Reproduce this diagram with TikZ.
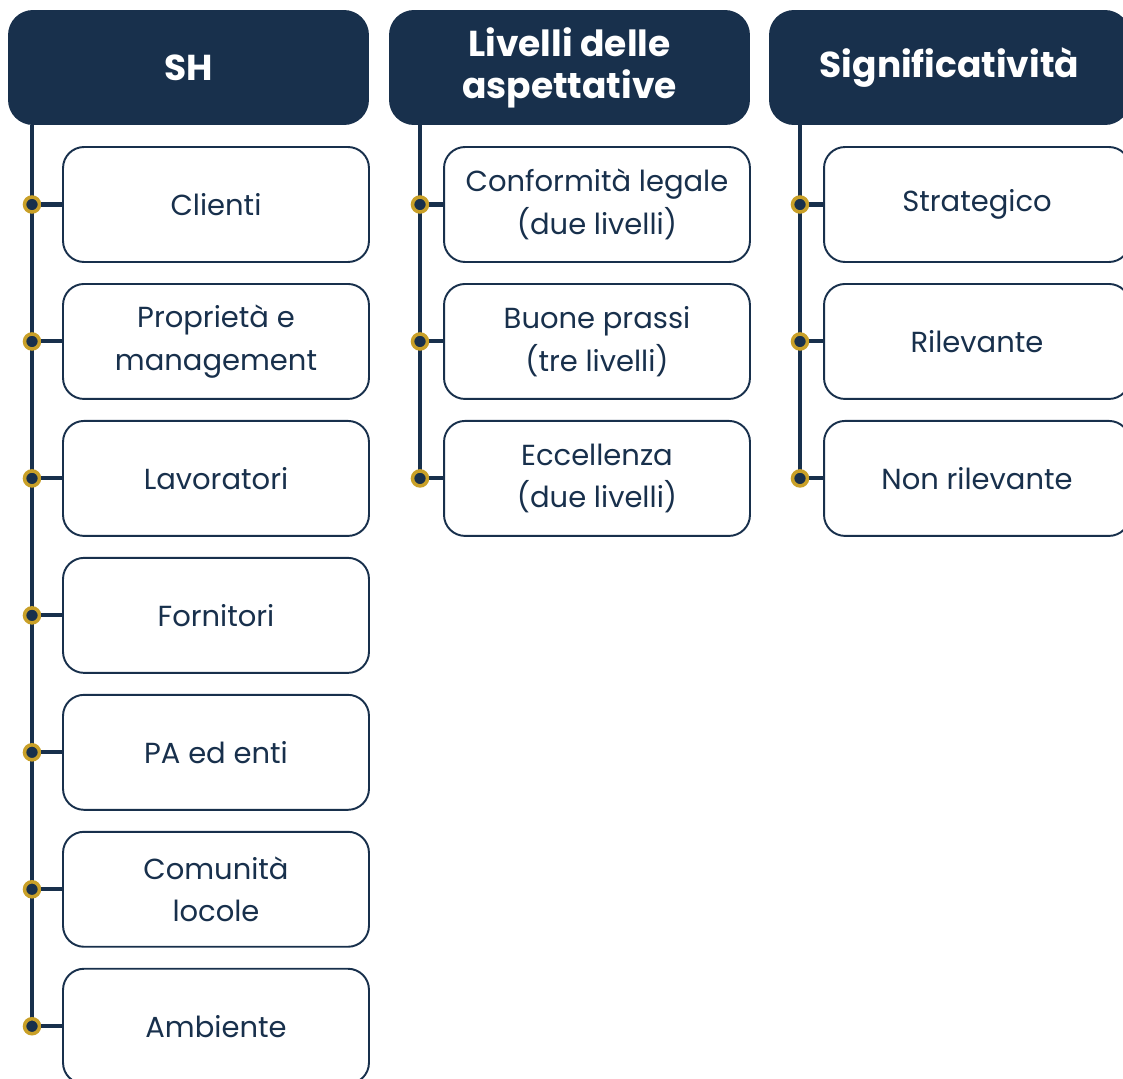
\documentclass[tikz,border=0pt]{standalone}
\usepackage{fontspec}
\setmainfont{Poppins}
\usepackage{tikz}
\usetikzlibrary{positioning}
\definecolor{navy}{RGB}{24,48,76}
\definecolor{gold}{RGB}{201,160,40}

\begin{document}
\begin{tikzpicture}[x=0.02cm, y=-0.02cm, node distance=0.401cm,
    head/.style={rectangle, rounded corners=0.5cm, minimum width=7.22cm, minimum height=2.3cm, fill=navy, text=white, align=center, font=\fontsize{20.5}{24}\selectfont\bfseries},
    item/.style={rectangle, rounded corners=0.42cm, minimum width=6.12cm, minimum height=2.3cm, draw=navy, line width=1.1pt, fill=white, text=navy, align=center, font=\fontsize{16.5}{24.4}\selectfont},
    spine/.style={draw=navy, line width=2.3pt},
    knob/.style={circle, draw=gold, fill=navy, line width=2pt, minimum size=0.3cm, inner sep=0pt}]
    \useasboundingbox (0,0) rectangle (1123,1079);

    % Headers
    \node [head] (sh) at (188.5,67.5) {SH};
    \node [head] (asp) at (569.5,67.5) {Livelli delle\\aspettative};
    \node [head] (sig) at (949.5,67.5) {Significatività};

    % SH column
    \node [item] (clienti) at (216,204.5) {Clienti};
    \node [item, below=of clienti] (proprieta) {Proprietà e\\management};
    \node [item, below=of proprieta] (lavoratori) {Lavoratori};
    \node [item, below=of lavoratori] (fornitori) {Fornitori};
    \node [item, below=of fornitori] (pa) {PA ed enti};
    \node [item, below=of pa] (comunita) {Comunità\\locole};
    \node [item, below=of comunita] (ambiente) {Ambiente};

    % Aspettative column
    \node [item] (legale) at (597,204.5) {Conformità legale\\(due livelli)};
    \node [item, below=of legale] (prassi) {Buone prassi\\(tre livelli)};
    \node [item, below=of prassi] (eccellenza) {Eccellenza\\(due livelli)};

    % Significativita column
    \node [item] (strategico) at (977,204.5) {Strategico};
    \node [item, below=of strategico] (rilevante) {Rilevante};
    \node [item, below=of rilevante] (nonril) {Non rilevante};

    % Spines
    \coordinate (shx) at (32,125);
    \coordinate (aspx) at (420,125);
    \coordinate (sigx) at (800,125);
    \draw[spine] (shx) -- (shx |- ambiente.west);
    \draw[spine] (aspx) -- (aspx |- eccellenza.west);
    \draw[spine] (sigx) -- (sigx |- nonril.west);

    % Knobs and links
    \node [knob] (k-clienti) at (shx |- clienti.west) {};
    \node [knob] (k-proprieta) at (shx |- proprieta.west) {};
    \node [knob] (k-lavoratori) at (shx |- lavoratori.west) {};
    \node [knob] (k-fornitori) at (shx |- fornitori.west) {};
    \node [knob] (k-pa) at (shx |- pa.west) {};
    \node [knob] (k-comunita) at (shx |- comunita.west) {};
    \node [knob] (k-ambiente) at (shx |- ambiente.west) {};
    \node [knob] (k-legale) at (aspx |- legale.west) {};
    \node [knob] (k-prassi) at (aspx |- prassi.west) {};
    \node [knob] (k-eccellenza) at (aspx |- eccellenza.west) {};
    \node [knob] (k-strategico) at (sigx |- strategico.west) {};
    \node [knob] (k-rilevante) at (sigx |- rilevante.west) {};
    \node [knob] (k-nonril) at (sigx |- nonril.west) {};

    \draw[spine] (k-clienti) -- (clienti.west);
    \draw[spine] (k-proprieta) -- (proprieta.west);
    \draw[spine] (k-lavoratori) -- (lavoratori.west);
    \draw[spine] (k-fornitori) -- (fornitori.west);
    \draw[spine] (k-pa) -- (pa.west);
    \draw[spine] (k-comunita) -- (comunita.west);
    \draw[spine] (k-ambiente) -- (ambiente.west);
    \draw[spine] (k-legale) -- (legale.west);
    \draw[spine] (k-prassi) -- (prassi.west);
    \draw[spine] (k-eccellenza) -- (eccellenza.west);
    \draw[spine] (k-strategico) -- (strategico.west);
    \draw[spine] (k-rilevante) -- (rilevante.west);
    \draw[spine] (k-nonril) -- (nonril.west);

\end{tikzpicture}
\end{document}
